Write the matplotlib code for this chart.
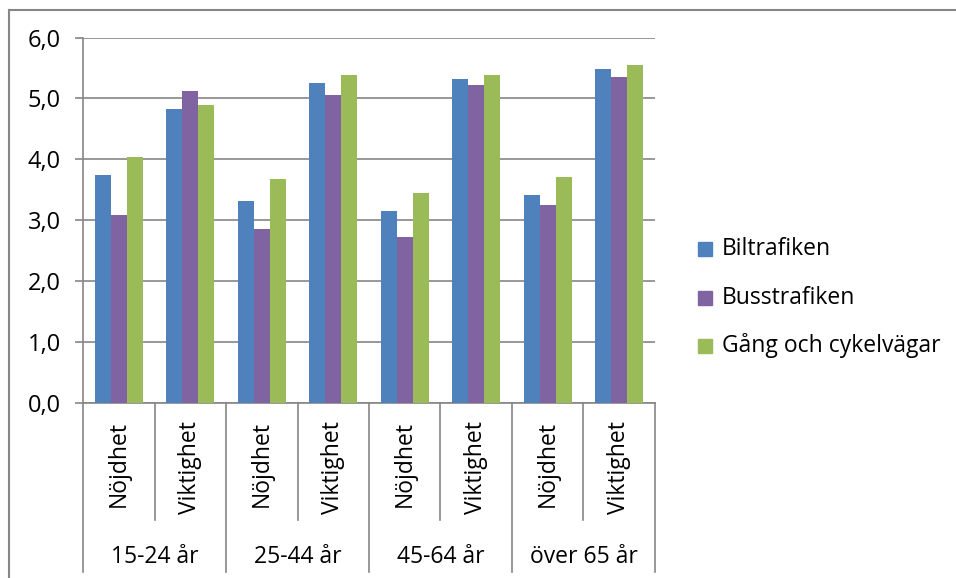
import matplotlib
matplotlib.use("Agg")
import matplotlib.pyplot as plt
import matplotlib.transforms as mtrans
import numpy as np
from matplotlib.patches import Rectangle
from matplotlib.lines import Line2D

plt.rcParams['font.family'] = ['Open Sans', 'DejaVu Sans']

groups = ["15-24 år", "25-44 år", "45-64 år", "över 65 år"]
subcats = ["Nöjdhet", "Viktighet"]
series_names = ["Biltrafiken", "Busstrafiken", "Gång och cykelvägar"]
biltrafiken = [3.74, 4.82, 3.32, 5.25, 3.15, 5.32, 3.42, 5.48]
busstrafiken = [3.09, 5.12, 2.86, 5.06, 2.73, 5.22, 3.25, 5.35]
gang_cykel = [4.04, 4.89, 3.68, 5.38, 3.45, 5.38, 3.71, 5.55]
colors = ["#4F81BD", "#8064A2", "#9BBB59"]
yticks = [0, 1, 2, 3, 4, 5, 6]

W, H = 956, 578
fig = plt.figure(figsize=(W / 100, H / 100), dpi=100)
gray = "#868686"
FS = 16.5

L, R, T, B = 83, 655, 37.5, 403
ax = fig.add_axes([L / W, 1 - B / H, (R - L) / W, (B - T) / H])

x = np.arange(len(biltrafiken))
w = 0.224
for i, (vals, c) in enumerate(zip([biltrafiken, busstrafiken, gang_cykel], colors)):
    ax.bar(x + (i - 1) * w, vals, width=w, color=c, label=series_names[i], zorder=3)

ax.set_xlim(-0.5, len(x) - 0.5)
ax.set_ylim(0, 6)
ax.set_yticks(yticks)
ax.set_yticklabels([f"{v:.1f}".replace(".", ",") for v in yticks], fontsize=17)
ax.tick_params(axis='y', direction='out', length=6, width=1.2, color=gray, pad=10)
ax.set_xticks([])
for s in ['top', 'right']:
    ax.spines[s].set_visible(False)
for s in ['left', 'bottom']:
    ax.spines[s].set_color(gray)
    ax.spines[s].set_linewidth(1.2)
ax.grid(axis='y', color=gray, linewidth=1.2, zorder=0)
ax.set_axisbelow(True)


def fx(px):
    return px / W


def fy(py):
    return 1 - py / H


blend = mtrans.blended_transform_factory(ax.transData, fig.transFigure)
for k in range(len(x) + 1):
    xv = k - 0.5
    end = 572 if k % 2 == 0 else 520
    fig.add_artist(Line2D([xv, xv], [fy(B), fy(end)], transform=blend, color=gray, lw=1.2))
for k in range(len(x)):
    fig.text(k, fy(421), subcats[k % 2], transform=blend, rotation=90, ha='center', va='top', fontsize=FS)
for g in range(len(groups)):
    fig.text(2 * g + 0.5, fy(557), groups[g], transform=blend, ha='center', va='center', fontsize=FS)

# outer chart border
fig.add_artist(Line2D([fx(9), fx(9)], [fy(10), 0], transform=fig.transFigure, color=gray, lw=1.5))
fig.add_artist(Line2D([fx(9), 1], [fy(10), fy(10)], transform=fig.transFigure, color=gray, lw=1.5))

# legend
ys = [249, 298, 346]
for i in range(3):
    fig.add_artist(Rectangle((fx(698), fy(ys[i] + 7)), 14 / W, 14 / H, transform=fig.transFigure,
                             color=colors[i]))
    fig.text(fx(722), fy(ys[i]), series_names[i], ha='left', va='center', fontsize=FS)

fig.savefig("out.png", dpi=100)
